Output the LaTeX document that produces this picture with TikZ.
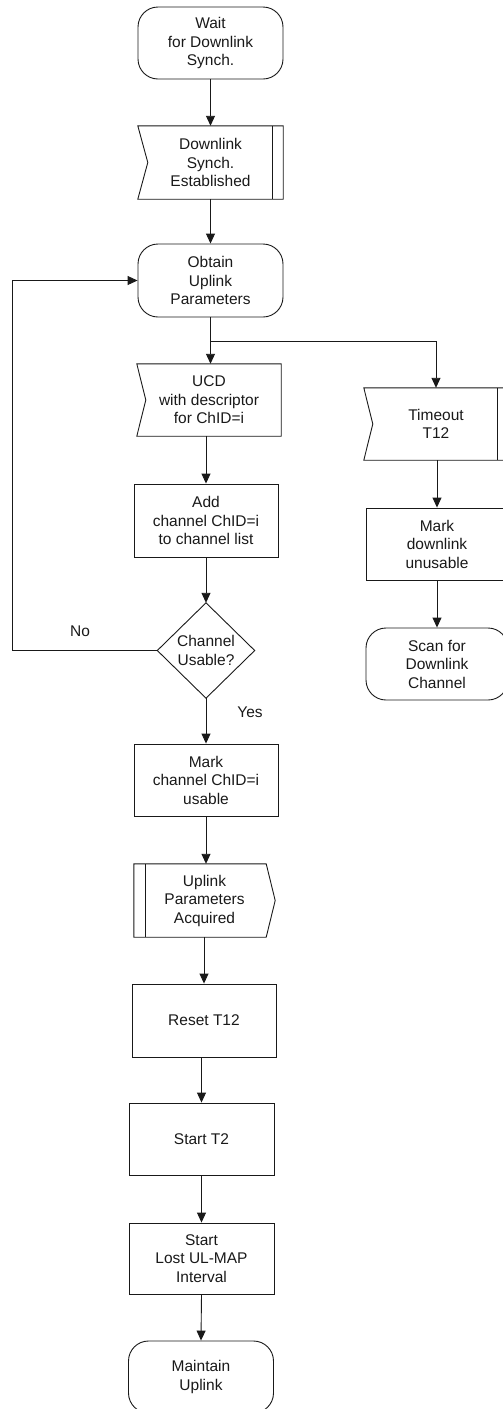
\documentclass[tikz,border=0pt]{standalone}
\usepackage{fontspec}
\setmainfont{Liberation Sans}
\usetikzlibrary{arrows.meta,calc}
\begin{document}
\begin{tikzpicture}[x=1pt,y=-1pt,
  every node/.style={font=\fontsize{15.5}{18.5}\selectfont, text=black!90, align=center, inner sep=0pt},
  line/.style={draw=black!90, line width=0.9pt},
  arr/.style={line, -{Triangle[length=10pt,width=9pt]}},
  frame/.style={draw=none, minimum width=#1},
  stateb/.style={line, rounded corners=20pt, minimum width=145pt, minimum height=72pt},
  taskb/.style={line, minimum width=144pt, minimum height=72pt},
  lbl/.style={font=\fontsize{15.5}{18.5}\selectfont}
]
\useasboundingbox (0,0) rectangle (503,1409);
\clip (0,0) rectangle (503,1409);

% states
\node[stateb] (wait) at (210.5,43) {Wait\\for Downlink\\Synch.};
\node[stateb, minimum height=73pt] (obtain) at (210.5,280.5) {Obtain\\Uplink\\Parameters};
\node[stateb, minimum width=142pt] (scan) at (437,664) {Scan for\\Downlink\\Channel};
\node[stateb] (maint) at (201,1377) {Maintain\\Uplink};

% input signals (notched left edge)
\node[frame=145pt, minimum height=73pt] (est) at (210.5,162.5) {Downlink\\Synch.\\Established};
\draw[line] (est.north west) -- (est.north east) -- (est.south east) -- (est.south west)
  -- ($(est.west)+(10,0)$) -- cycle;
\draw[line] ($(est.north east)+(-11,0)$) -- ($(est.south east)+(-11,0)$);

\node[frame=144pt, minimum height=72pt] (ucd) at (209,400) {UCD\\with descriptor\\for ChID=i};
\draw[line] (ucd.north west) -- (ucd.north east) -- (ucd.south east) -- (ucd.south west)
  -- ($(ucd.west)+(9,0)$) -- cycle;

\node[frame=144pt, minimum height=72pt] (tmo) at (436,424) {Timeout\\T12};
\draw[line] (tmo.north west) -- (tmo.north east) -- (tmo.south east) -- (tmo.south west)
  -- ($(tmo.west)+(9,0)$) -- cycle;
\draw[line] ($(tmo.north east)+(-11,0)$) -- ($(tmo.south east)+(-11,0)$);

% output signal (pointed right edge)
\node[frame=141pt, minimum height=73pt] (upa) at (204.5,900.5) {Uplink\\Parameters\\Acquired};
\draw[line] (upa.north west) -- ($(upa.north east)+(-9,0)$) -- (upa.east)
  -- ($(upa.south east)+(-9,0)$) -- (upa.south west) -- cycle;
\draw[line] ($(upa.north west)+(12,0)$) -- ($(upa.south west)+(12,0)$);

% tasks
\node[taskb, minimum height=73pt] (add) at (206,520.5) {Add\\channel ChID=i\\to channel list};
\node[taskb] (mark) at (206,780) {Mark\\channel ChID=i\\usable};
\node[taskb, minimum width=142pt] (mdl) at (437,544) {Mark\\downlink\\unusable};
\node[taskb, minimum height=73pt] (reset) at (204,1020.5) {Reset T12};
\node[taskb, minimum width=145pt] (t2) at (201.5,1139) {Start T2};
\node[taskb, minimum width=145pt, minimum height=71pt] (lost) at (201.5,1258.5) {Start\\Lost UL-MAP\\Interval};

% decision
\node[frame=97pt, minimum height=95pt] (dec) at (206,650.5) {Channel\\Usable?};
\draw[line] (dec.north) -- (dec.east) -- (dec.south) -- (dec.west) -- cycle;

% connectors
\draw[arr] (wait.south) -- (est.north);
\draw[arr] (est.south) -- (obtain.north);
\coordinate (fork) at ($(obtain.south)+(0,24)$);
\draw[line] (obtain.south) -- (fork);
\draw[arr] (fork) -- (fork |- ucd.north);
\draw[arr] (fork) -| (tmo.north);
\draw[arr] (add.north |- ucd.south) -- (add.north);
\draw[arr] (add.south) -- (dec.north);
\draw[arr] (dec.south) -- (mark.north);
\draw[arr] (dec.west) -- ++(-145,0) |- (obtain.west);
\draw[arr] (mark.south) -- (mark.south |- upa.north);
\draw[arr] (reset.north |- upa.south) -- (reset.north);
\draw[arr] (t2.north |- reset.south) -- (t2.north);
\draw[arr] (t2.south) -- (lost.north);
\draw[arr] (lost.south) -- (maint.north);
\draw[arr] (mdl.north |- tmo.south) -- (mdl.north);
\draw[arr] (mdl.south) -- (scan.north);

% branch labels
\node[lbl] (no) at (80,631) {No};
\node[lbl] (yes) at (250,712) {Yes};
\end{tikzpicture}
\end{document}
